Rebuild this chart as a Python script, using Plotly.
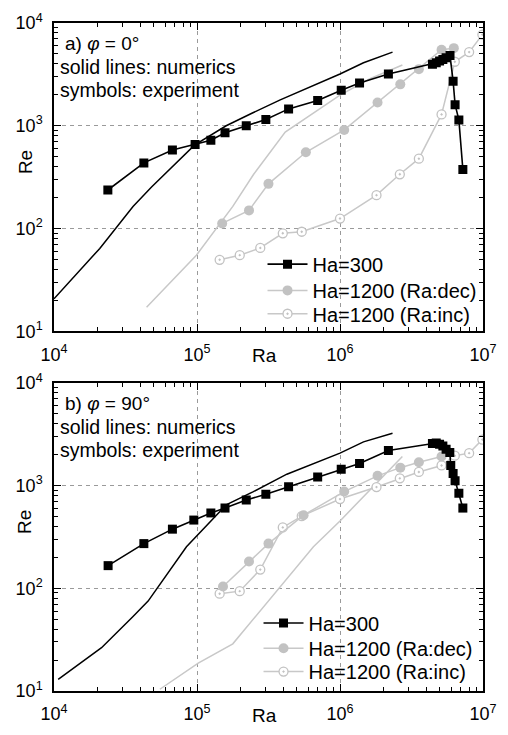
import plotly.graph_objects as go

# ---------------- data (Ra, Re) ----------------
# panel a) phi = 0
a_ha300_ra = [2.38e4, 4.25e4, 6.73e4, 9.7e4, 1.25e5, 1.57e5, 2.21e5, 3.03e5, 4.37e5, 6.98e5,
              1.02e6, 1.37e6, 2.18e6, 4.43e6, 4.71e6, 4.97e6, 5.24e6, 5.52e6, 5.88e6,
              6.18e6, 6.38e6, 6.78e6, 7.23e6]
a_ha300_re = [237, 435, 581, 658, 722, 853, 1000, 1153, 1459, 1758,
              2219, 2601, 3190, 3963, 4106, 4256, 4420, 4580, 4816,
              2716, 1603, 1140, 376]
a_num300_ra = [1e4, 2.09e4, 3.57e4, 4.81e4, 9.6e4, 1.6e5, 2.46e5, 3.82e5, 1e6, 1.46e6, 2.33e6]
a_num300_re = [20.7, 64, 164, 253, 648, 1000, 1337, 1786, 3190, 4100, 5210]
a_num1200_ra = [4.44e4, 9.9e4, 1.78e5, 2.49e5, 4.14e5, 6.52e5, 1e6, 1.62e6, 2.73e6]
a_num1200_re = [17.1, 55, 164, 337, 867, 1337, 1991, 2864, 3905]
a_dec_ra = [1.5e5, 2.31e5, 3.16e5, 5.77e5, 1.07e6, 1.83e6, 2.64e6, 3.56e6, 5.13e6, 6.25e6]
a_dec_re = [112, 150, 272, 552, 910, 1684, 2528, 3555, 5487, 5690]
a_inc_ra = [1.44e5, 1.99e5, 2.77e5, 3.98e5, 5.4e5, 1e6, 1.8e6, 2.62e6, 3.56e6, 5.13e6,
            6.35e6, 8.0e6, 9.9e6]
a_inc_re = [49.6, 55, 64.7, 89.8, 93, 125, 211, 337, 478, 1289, 4195, 5210, 7710]

# panel b) phi = 90
b_ha300_ra = [2.39e4, 4.25e4, 6.73e4, 9.5e4, 1.25e5, 1.57e5, 2.21e5, 3.03e5, 4.37e5, 6.98e5,
              1.02e6, 1.37e6, 2.18e6, 4.43e6, 4.71e6, 4.97e6, 5.24e6, 5.52e6, 5.86e6,
              5.95e6, 6.18e6, 6.38e6, 6.78e6, 7.23e6]
b_ha300_re = [166, 272, 376, 461, 541, 603, 722, 822, 972, 1208,
              1438, 1637, 2188, 2567, 2590, 2520, 2420, 2260, 2094,
              1567, 1309, 1115, 841, 603]
b_num300_ra = [1.07e4, 2.15e4, 3.57e4, 4.55e4, 8.44e4, 1.6e5, 2.46e5, 4.25e5, 1e6, 1.46e6, 2.33e6]
b_num300_re = [13, 26.4, 53, 75, 253, 647, 867, 1289, 2066, 2660, 3230]
b_num1200_ra = [5.5e4, 1.02e5, 1.78e5, 2.46e5, 6.52e5, 1e6, 1.62e6, 2.73e6]
b_num1200_re = [10.4, 18.7, 28.8, 49.6, 253, 452, 897, 1919]
b_dec_ra = [1.52e5, 2.31e5, 3.16e5, 5.56e5, 1.07e6, 1.83e6, 2.64e6, 3.56e6, 5.13e6]
b_dec_re = [104, 182, 272, 514, 873, 1242, 1492, 1684, 1919]
b_inc_ra = [1.44e5, 1.99e5, 2.77e5, 3.98e5, 5.4e5, 1e6, 1.8e6, 2.62e6, 3.56e6, 5.13e6,
            6.35e6, 8.0e6, 9.9e6]
b_inc_re = [88.5, 93.7, 152, 391, 504, 738, 966, 1175, 1355, 1567, 1950, 2066, 2800]

x_tickvals = [1e4, 1e5, 1e6, 1e7]
x_ticktext = ["10<sup>4</sup>", "10<sup>5</sup>", "10<sup>6</sup>", "10<sup>7</sup>"]
y_tickvals = [1e1, 1e2, 1e3, 1e4]
y_ticktext = ["10<sup>1</sup>", "10<sup>2</sup>", "10<sup>3</sup>", "10<sup>4</sup>"]
legend_names = ["Ha=300", "Ha=1200 (Ra:dec)", "Ha=1200 (Ra:inc)"]

BLACK = "#000000"
GREY_M = "#c2c2c2"
GREY_L = "#c8c8c8"
FONT = "Liberation Sans, Arial, sans-serif"

fig = go.Figure()

panels = [
    ("x", "y", ["legend", "legend2", "legend3"], a_num300_ra, a_num300_re, a_num1200_ra, a_num1200_re,
     a_ha300_ra, a_ha300_re, a_dec_ra, a_dec_re, a_inc_ra, a_inc_re),
    ("x2", "y2", ["legend4", "legend5", "legend6"], b_num300_ra, b_num300_re, b_num1200_ra, b_num1200_re,
     b_ha300_ra, b_ha300_re, b_dec_ra, b_dec_re, b_inc_ra, b_inc_re),
]
for (xa, ya, lg, n3x, n3y, n12x, n12y, hx, hy, dx, dy, ix, iy) in panels:
    fig.add_trace(go.Scatter(x=n12x, y=n12y, mode="lines", xaxis=xa, yaxis=ya,
                             line=dict(color=GREY_L, width=1.5), showlegend=False))
    fig.add_trace(go.Scatter(x=n3x, y=n3y, mode="lines", xaxis=xa, yaxis=ya,
                             line=dict(color=BLACK, width=1.5), showlegend=False))
    fig.add_trace(go.Scatter(x=ix, y=iy, mode="lines+markers", xaxis=xa, yaxis=ya,
                             name=legend_names[2], legend=lg[2],
                             line=dict(color=GREY_L, width=1.5),
                             marker=dict(symbol="circle-dot", size=9, color="white",
                                         line=dict(color=GREY_M, width=1.3))))
    fig.add_trace(go.Scatter(x=dx, y=dy, mode="lines+markers", xaxis=xa, yaxis=ya,
                             name=legend_names[1], legend=lg[1],
                             line=dict(color=GREY_L, width=1.5),
                             marker=dict(symbol="circle", size=10, color=GREY_M,
                                         line=dict(width=0))))
    fig.add_trace(go.Scatter(x=hx, y=hy, mode="lines+markers", xaxis=xa, yaxis=ya,
                             name=legend_names[0], legend=lg[0],
                             line=dict(color=BLACK, width=1.6),
                             marker=dict(symbol="square", size=9, color=BLACK,
                                         line=dict(width=0))))

minor_x = [k * 10 ** e for e in range(4, 7) for k in range(2, 10)]
minor_y = [k * 10 ** e for e in range(1, 4) for k in range(2, 10)]

def xaxis(anchor):
    return dict(type="log", range=[4, 7], anchor=anchor,
                tickmode="array", tickvals=x_tickvals, ticktext=x_ticktext,
                ticks="inside", ticklen=7, tickwidth=1.2, tickcolor=BLACK,
                showline=True, linecolor=BLACK, linewidth=1.5, mirror="ticks",
                showgrid=True, gridcolor="#9a9a9a", gridwidth=1, griddash="4px,4px",
                zeroline=False, ticklabelstandoff=6,
                tickfont=dict(family=FONT, size=18, color=BLACK),
                minor=dict(tickmode="array", tickvals=minor_x, ticks="inside",
                           ticklen=4, tickwidth=1.2, tickcolor=BLACK, showgrid=False))

def yaxis(anchor, domain):
    return dict(type="log", range=[1, 4], anchor=anchor, domain=domain,
                tickmode="array", tickvals=y_tickvals, ticktext=y_ticktext,
                ticks="inside", ticklen=7, tickwidth=1.2, tickcolor=BLACK,
                showline=True, linecolor=BLACK, linewidth=1.5, mirror="ticks",
                showgrid=True, gridcolor="#9a9a9a", gridwidth=1, griddash="4px,4px",
                zeroline=False, ticklabelstandoff=6,
                tickfont=dict(family=FONT, size=18, color=BLACK),
                minor=dict(tickmode="array", tickvals=minor_y, ticks="inside",
                           ticklen=4, tickwidth=1.2, tickcolor=BLACK, showgrid=False))

H_TOP = 11
H_BOT = 37
PH = 735 - H_TOP - H_BOT

def py(pix):
    return (735 - H_BOT - pix) / PH

def px(pix):
    return (pix - 54) / (508 - 54 - 24)

ann = []
for off, lab in [(0, "a) <i>φ</i> = 0°"), (370, "b) <i>φ</i> = 90°")]:
    ann.append(dict(text=lab, x=px(63), y=py(32 + off), xref="paper", yref="paper",
                    xanchor="left", yanchor="middle", showarrow=False,
                    font=dict(family=FONT, size=19, color=BLACK)))
    ann.append(dict(text="solid lines: numerics", x=px(58), y=py(56 + off), xref="paper",
                    yref="paper", xanchor="left", yanchor="middle", showarrow=False,
                    font=dict(family=FONT, size=19.5, color=BLACK)))
    ann.append(dict(text="symbols: experiment", x=px(58), y=py(80 + off), xref="paper",
                    yref="paper", xanchor="left", yanchor="middle", showarrow=False,
                    font=dict(family=FONT, size=19.5, color=BLACK)))
    ann.append(dict(text="Ra", x=px(265), y=py(353 + off), xref="paper", yref="paper",
                    xanchor="center", yanchor="middle", showarrow=False,
                    font=dict(family=FONT, size=19, color=BLACK)))
    ann.append(dict(text="Re", x=px(25), y=py(154 + off), xref="paper", yref="paper",
                    xanchor="center", yanchor="middle", showarrow=False, textangle=-90,
                    font=dict(family=FONT, size=19, color=BLACK)))

def leg(xpix, ypix):
    return dict(x=px(xpix), y=py(ypix), xanchor="left", yanchor="middle",
                bgcolor="rgba(0,0,0,0)", borderwidth=0,
                font=dict(family=FONT, size=20, color=BLACK), itemwidth=40)

fig.update_layout(
    width=508, height=735,
    margin=dict(l=54, r=24, t=H_TOP, b=H_BOT),
    paper_bgcolor="white", plot_bgcolor="white",
    font=dict(family=FONT, color=BLACK),
    xaxis=xaxis("y"), yaxis=yaxis("x", [py(328), 1.0]),
    xaxis2=xaxis("y2"), yaxis2=yaxis("x2", [0.0, py(381)]),
    legend=leg(263, 259), legend2=leg(263, 286), legend3=leg(263, 310),
    legend4=leg(259, 628), legend5=leg(259, 654), legend6=leg(259, 678),
    annotations=ann,
)

fig.write_html("out.html")
